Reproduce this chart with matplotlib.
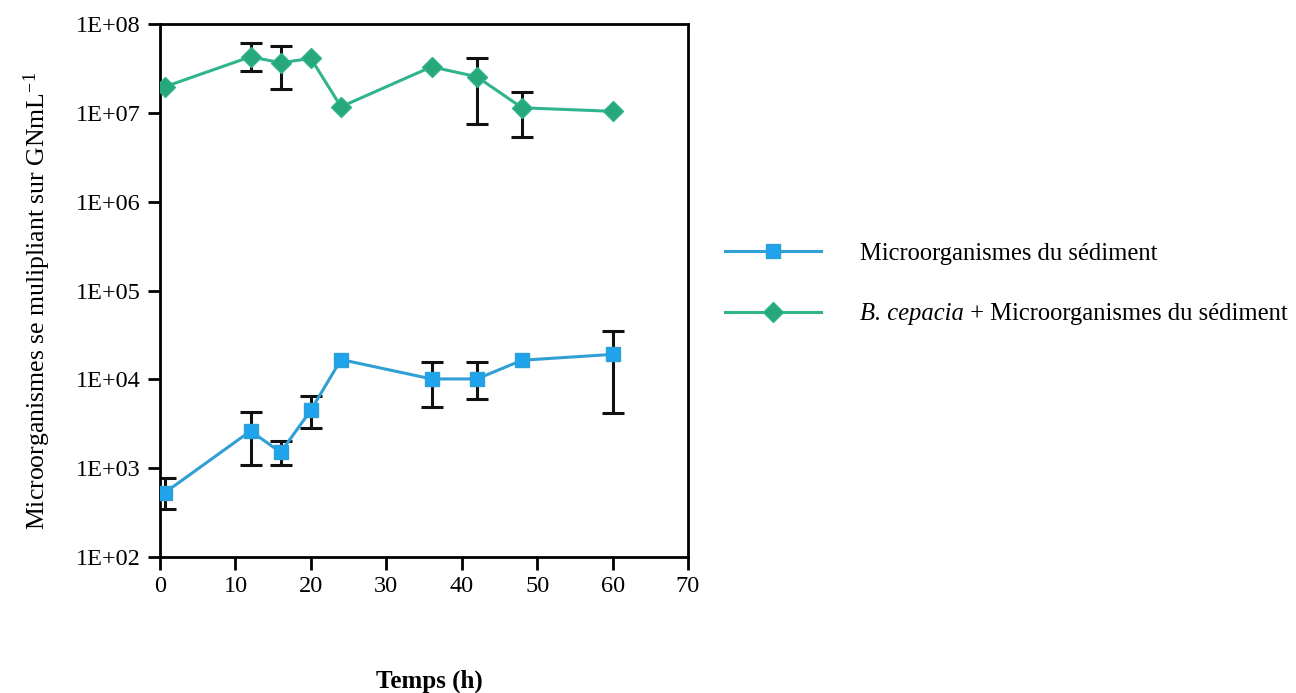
import numpy as np
import matplotlib
matplotlib.use("Agg")
import matplotlib.pyplot as plt
from matplotlib.ticker import FixedLocator, FuncFormatter, NullLocator

# Data (time in h, counts per mL)
temps = [0.6, 12, 16, 20, 24, 36, 42, 48, 60]

sed = [527, 2620, 1510, 4490, 16700, 10100, 10100, 16400, 19100]
sed_low = [344, 1080, 1080, 2860, None, 4840, 6040, None, 4190]
sed_high = [774, 4300, 2000, 6530, None, 15600, 15600, None, 35300]

bc = [1.96e7, 4.28e7, 3.66e7, 4.10e7, 1.17e7, 3.30e7, 2.55e7, 1.14e7, 1.04e7]
bc_low = [None, 2.98e7, 1.85e7, None, None, None, 7.45e6, 5.36e6, None]
bc_high = [None, 6.05e7, 5.65e7, None, None, None, 4.17e7, 1.71e7, None]

x_ticks = [0, 10, 20, 30, 40, 50, 60, 70]
y_ticks = [1e2, 1e3, 1e4, 1e5, 1e6, 1e7, 1e8]

lbl_sed = "Microorganismes du sédiment"
lbl_bc_it = "B. cepacia"
lbl_bc_rest = " + Microorganismes du sédiment"

plt.rcParams['font.family'] = ['Liberation Serif', 'DejaVu Serif']
plt.rcParams['mathtext.fontset'] = 'custom'
plt.rcParams['mathtext.rm'] = 'Liberation Serif'
plt.rcParams['mathtext.it'] = 'Liberation Serif:italic'

fig = plt.figure(figsize=(12.96, 6.93), dpi=100)
ax = fig.add_axes([160 / 1296, 1 - 557 / 693, 528 / 1296, 533 / 693])


def err_bars(x, y, lo, hi):
    xs, ys, el, eh = [], [], [], []
    for xi, yi, l, h in zip(x, y, lo, hi):
        if l is None:
            continue
        xs.append(xi)
        ys.append(yi)
        el.append(yi - l)
        eh.append(h - yi)
    ax.errorbar(xs, ys, yerr=[el, eh], fmt='none', ecolor='#111111',
                elinewidth=2.2, capsize=8, capthick=2.2, zorder=2)


err_bars(temps, sed, sed_low, sed_high)
err_bars(temps, bc, bc_low, bc_high)

ax.plot(temps, sed, color='#2f9fd4', lw=2.2, marker='s', markersize=10,
        markerfacecolor='#1ea3ec', markeredgecolor='#2f9fd4', markeredgewidth=1,
        label=lbl_sed, zorder=3)
ax.plot(temps, bc, color='#2fb48e', lw=2.2, marker='D', markersize=10,
        markerfacecolor='#27a87a', markeredgecolor='#2fb48e', markeredgewidth=1,
        label=lbl_bc_it, zorder=3)

ax.set_yscale('log')
ax.set_xlim(0, 70)
ax.set_ylim(1e2, 1e8)
ax.xaxis.set_major_locator(FixedLocator(x_ticks))
ax.yaxis.set_major_locator(FixedLocator(y_ticks))
ax.yaxis.set_minor_locator(NullLocator())
ax.yaxis.set_major_formatter(FuncFormatter(lambda v, p: "1E+%02d" % round(np.log10(v))))

for s in ax.spines.values():
    s.set_linewidth(2)
ax.tick_params(axis='both', direction='out', length=9, width=2, labelsize=17.5, pad=5)

ax.set_ylabel(r"Microorganismes se mulipliant sur GNmL$^{-1}$", fontsize=18.5)
ax.yaxis.set_label_coords(53 / 1296, 1 - 301 / 693, transform=fig.transFigure)
fig.text(429 / 1296, 5 / 693, "Temps (h)", fontsize=18, fontweight='bold',
         ha='center', va='baseline')

leg = fig.legend(loc='center left', bbox_to_anchor=(725 / 1296, 1 - 284 / 693),
                 frameon=False, fontsize=17.7, handlelength=3.9, handletextpad=1.6,
                 labelspacing=1.55, borderpad=0, borderaxespad=0)

# second legend label: italic species name, then the rest in regular text
t2 = leg.get_texts()[1]
t2.set_fontstyle('italic')
fig.canvas.draw()
renderer = fig.canvas.get_renderer()
bb = t2.get_window_extent(renderer)
fig.text(bb.x1, bb.y0, lbl_bc_rest, fontsize=17.7,
         ha='left', va='bottom', transform=None)

fig.savefig("out.png", dpi=100)
